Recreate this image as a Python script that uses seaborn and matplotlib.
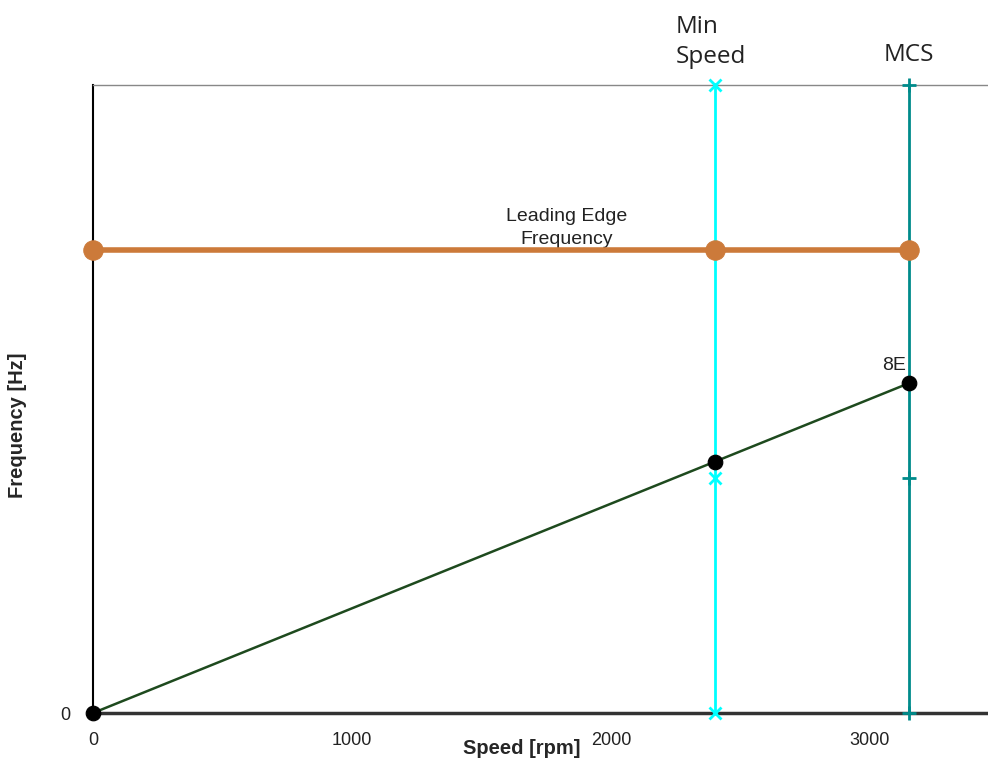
import matplotlib
matplotlib.use("Agg")
import matplotlib.pyplot as plt
import seaborn as sns
import pandas as pd

sns.set_style("white")
plt.rcParams['font.family'] = ['Liberation Sans', 'DejaVu Sans']

# data
speeds = [0, 2400, 3150]
le_freq = [590, 590, 590]
e8_freq = [0, 320, 420]
min_speed = 2400
mcs = 3150
vline_y = [0, 300, 800]
xticks = [0, 1000, 2000, 3000]

W, H = 988, 766
fig = plt.figure(figsize=(W / 100, H / 100), dpi=100)
ax = fig.add_axes([93 / W, 1 - 713 / H, 1 - 93 / W, (713 - 85) / H])

sns.lineplot(x=[min_speed] * 3, y=vline_y, ax=ax, color='#00FFFF', lw=2,
             marker='x', markersize=8, mew=2, mec='#00FFFF', estimator=None, sort=False,
             clip_on=False, zorder=3)
sns.lineplot(x=[mcs] * 3, y=vline_y, ax=ax, color='#008B8B', lw=2,
             marker='+', markersize=10, mew=2, mec='#008B8B', estimator=None, sort=False,
             clip_on=False, zorder=3)
sns.lineplot(x=speeds, y=le_freq, ax=ax, color='#CC7A3A', lw=4,
             marker='o', markersize=14, mec='#CC7A3A', estimator=None, sort=False,
             clip_on=False, zorder=4)
sns.lineplot(x=speeds, y=e8_freq, ax=ax, color='#1E4A1E', lw=1.8,
             estimator=None, sort=False, clip_on=False, zorder=4)
sns.scatterplot(x=speeds, y=e8_freq, ax=ax, color='black', s=110, edgecolor='black',
                clip_on=False, zorder=5)

ax.set_xlim(0, 3456)
ax.set_ylim(0, 800)
ax.set_xticks(xticks)
ax.set_xticklabels([str(t) for t in xticks], fontsize=13)
ax.set_yticks([0])
ax.set_yticklabels(['0'], fontsize=13)
ax.tick_params(axis='x', direction='in', length=5, width=1, color='#555555', pad=14,
               labelcolor='#222222')
ax.tick_params(axis='y', length=0, pad=16, labelcolor='#222222')

ax.spines['right'].set_visible(False)
ax.spines['left'].set_color('black')
ax.spines['left'].set_linewidth(1.5)
ax.spines['bottom'].set_color('#333333')
ax.spines['bottom'].set_linewidth(2.5)
ax.spines['top'].set_color('#888888')
ax.spines['top'].set_linewidth(1)

ax.set_xlabel('')
ax.set_ylabel('')
fig.text(522 / W, 1 - 749 / H, 'Speed [rpm]', fontsize=14.5, fontweight='bold',
         ha='center', va='center')
fig.text(18 / W, 1 - 425 / H, 'Frequency [Hz]', fontsize=14.5, fontweight='bold',
         rotation=90, ha='center', va='center')

ax.text(1830, 592, 'Leading Edge\nFrequency', fontsize=14, ha='center', va='bottom',
        linespacing=1.45, color='#222222')
ax.text(3140, 432, '8E', fontsize=14, ha='right', va='bottom', color='#222222')

cal = ['Open Sans', 'DejaVu Sans']
fig.text(676 / W, 1 - 33 / H, 'Min', fontsize=17.5, ha='left', va='baseline',
         family=cal, color='#222222')
fig.text(676 / W, 1 - 63 / H, 'Speed', fontsize=17.5, ha='left', va='baseline',
         family=cal, color='#222222')
fig.text(909 / W, 1 - 61 / H, 'MCS', fontsize=17.5, ha='center', va='baseline',
         family=cal, color='#222222')

fig.savefig('out.png', dpi=100)
